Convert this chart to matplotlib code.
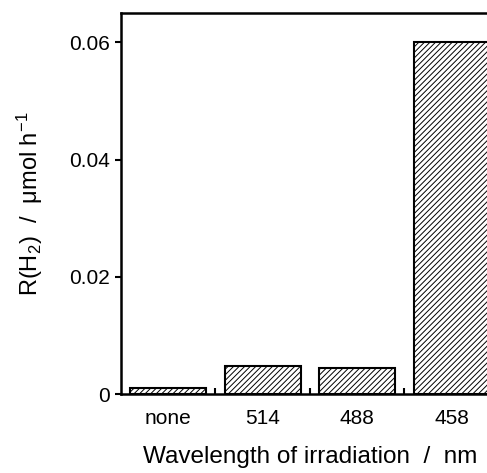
import matplotlib
matplotlib.use('Agg')
from matplotlib import pyplot as plt

plt.rcParams['font.family'] = ['Liberation Sans', 'DejaVu Sans']
plt.rcParams['mathtext.fontset'] = 'custom'
plt.rcParams['mathtext.rm'] = 'Liberation Sans'
plt.rcParams['mathtext.it'] = 'Liberation Sans'
plt.rcParams['hatch.linewidth'] = 0.7

categories = ['none', '514', '488', '458']
rates = [0.0011, 0.0048, 0.0045, 0.060]
yticks = [0, 0.02, 0.04, 0.06]
ytick_labels = ['0', '0.02', '0.04', '0.06']

fig = plt.figure(figsize=(4.87, 4.73), dpi=100)
ax = fig.add_axes([0.2485, 0.167, 0.776, 0.8055])

x = list(range(len(categories)))
ax.bar(x, rates, width=0.8, color='white', edgecolor='black',
       linewidth=1.5, hatch='//////')

ax.set_xlim(-0.5, 3.5)
ax.set_ylim(0, 0.065)
ax.set_xticks(x)
ax.set_xticklabels(categories, fontsize=15)
ax.set_xticks([0.5, 1.5, 2.5], minor=True)
ax.tick_params(axis='x', which='major', length=0, pad=11)
ax.tick_params(axis='x', which='minor', direction='in', length=4, width=1.5)
ax.set_yticks(yticks)
ax.set_yticklabels(ytick_labels, fontsize=15)
ax.tick_params(axis='y', direction='out', length=4, width=1.5, pad=4)

for s in ax.spines.values():
    s.set_linewidth(1.8)
ax.spines['right'].set_visible(False)

ax.set_xlabel('Wavelength of irradiation  /  nm', fontsize=17.5, labelpad=13)
ax.set_ylabel(r'R(H$_2$)  /  $\mu$mol h$^{-1}$', fontsize=17, labelpad=17)

plt.savefig('out.png', dpi=100)
